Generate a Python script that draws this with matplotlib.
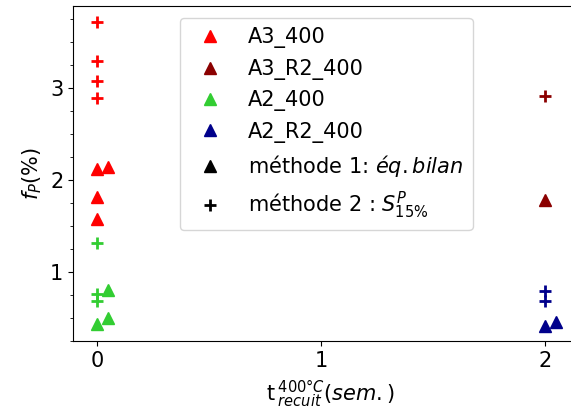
import numpy as np
import matplotlib
matplotlib.use('Agg')
import matplotlib.pyplot as plt
from matplotlib.ticker import MultipleLocator
from matplotlib.lines import Line2D

# méthode 1 (triangles) et méthode 2 (plus)
a3_400_m1_x = [0, 0.05, 0, 0]
a3_400_m1_y = [2.12, 2.14, 1.82, 1.58]
a3_400_m2_x = [0, 0, 0, 0]
a3_400_m2_y = [3.72, 3.29, 3.07, 2.89]

a3_r2_m1_x = [2]
a3_r2_m1_y = [1.78]
a3_r2_m2_x = [2]
a3_r2_m2_y = [2.91]

a2_400_m1_x = [0, 0.05, 0.05]
a2_400_m1_y = [0.43, 0.80, 0.50]
a2_400_m2_x = [0, 0, 0]
a2_400_m2_y = [1.32, 0.76, 0.68]

a2_r2_m1_x = [2, 2.05]
a2_r2_m1_y = [0.41, 0.46]
a2_r2_m2_x = [2, 2]
a2_r2_m2_y = [0.79, 0.69]

series = [
    ('A3_400', 'red', a3_400_m1_x, a3_400_m1_y, a3_400_m2_x, a3_400_m2_y),
    ('A3_R2_400', 'darkred', a3_r2_m1_x, a3_r2_m1_y, a3_r2_m2_x, a3_r2_m2_y),
    ('A2_400', 'limegreen', a2_400_m1_x, a2_400_m1_y, a2_400_m2_x, a2_400_m2_y),
    ('A2_R2_400', 'darkblue', a2_r2_m1_x, a2_r2_m1_y, a2_r2_m2_x, a2_r2_m2_y),
]

fig = plt.figure(figsize=(5.71, 4.18), dpi=100)
ax = fig.add_axes([73/571, 1 - 341/418, 1.03 - 73/571, (341 - 6)/418])

for name, col, x1, y1, x2, y2 in series:
    ax.plot(x1, y1, '^', color=col, ms=9, linestyle='none')
    ax.plot(x2, y2, '+', color=col, ms=9, mew=2, linestyle='none')

ax.set_xlim(-0.107, 2.192)
ax.set_ylim(0.25, 3.89)
ax.set_xticks([0, 1, 2])
ax.set_yticks([1, 2, 3])
ax.yaxis.set_minor_locator(MultipleLocator(0.25))
ax.tick_params(axis='both', which='major', labelsize=15)

ax.set_xlabel(r't$\,^{400°C}_{recuit}(sem.)$', fontsize=15, labelpad=6)
ax.set_ylabel(r'$f_P(\%)$', fontsize=15)

handles = [Line2D([], [], marker='^', color=c, ms=9, linestyle='none') for _, c, *_ in series]
handles.append(Line2D([], [], marker='^', color='black', ms=9, linestyle='none'))
handles.append(Line2D([], [], marker='+', color='black', ms=9, mew=2, linestyle='none'))
labels = [s[0] for s in series] + [r'méthode 1: $éq.bilan$', r'méthode 2 : $S^P_{15\%}$']
ax.legend(handles, labels, loc='upper center', bbox_to_anchor=(0.492, 0.995),
          fontsize=15, labelspacing=0.5, borderpad=0.45)

fig.savefig('out.png', dpi=100)
